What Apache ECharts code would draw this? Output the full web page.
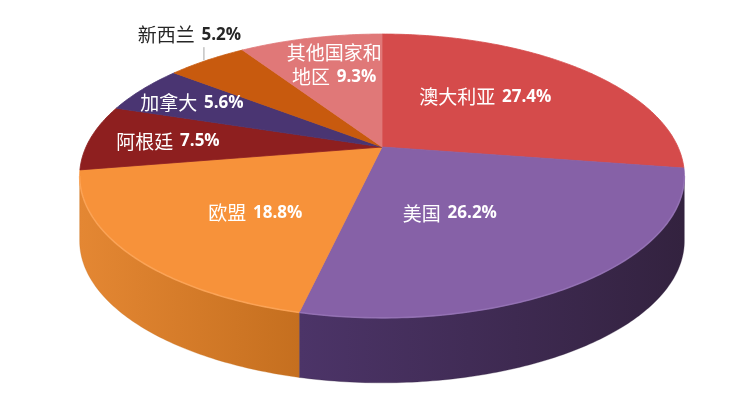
<!DOCTYPE html>
<html><head><meta charset="utf-8">
<script src="https://cdn.jsdelivr.net/npm/echarts@6/dist/echarts.min.js"></script>
<style>html,body{margin:0;padding:0;background:#fff}#c{width:750px;height:402px}</style>
</head><body><div id="c"></div>
<script>
// ---- data ----
const categories = ['澳大利亚', '美国', '欧盟', '阿根廷', '加拿大', '新西兰', '其他国家和地区'];
const values = [27.4, 26.2, 18.8, 7.5, 5.6, 5.2, 9.3];
const labelNames = ['澳大利亚', '美国', '欧盟', '阿根廷', '加拿大', '新西兰', '其他国家和\n地区'];

// ---- style / layout ----
const topColors = ['#D54B4B', '#8661A7', '#F7923A', '#8E1F1F', '#4A3572', '#C85A0E', '#E07878'];
const sideColors = [
  ['#A83838', '#8A2C2C'],
  ['#4C3468', '#33223F'],
  ['#E48733', '#C56F1F'],
  ['#6E1616', '#5A1212'],
  ['#38285A', '#2C2048'],
  ['#A04808', '#8A3E06'],
  ['#B85E5E', '#A05050']
];
const rimColors = ['#E26A6A', '#9A78BA', '#FDAA60', '#A83434', '#5E4888', '#DA7428', '#EA9494'];
const labelRadius = [0.55, 0.49, 0.59, 0.73, 0.77, 1.26, 0.71];
const labelShift = [-6, 9, -5.5, -1, -1, 4.5, 1.7];
const labelColors = ['#fff', '#fff', '#fff', '#fff', '#fff', '#262626', '#fff'];

const CX = 382, CY = 147, A = 296, B = 136, K = 0.204, H = 65;
const total = values.reduce((a, b) => a + b, 0);
const starts = []; let acc = 0;
values.forEach(v => { starts.push(acc); acc += v; });
const TH_R = Math.acos(-K) * 180 / Math.PI;
const TH_L = 360 - TH_R;

function proj(theta, r) {
  const t = theta * Math.PI / 180;
  const x = r * Math.sin(t), z = r * Math.cos(t);
  const d = 1 + K * z;
  return [CX + A * x / d, CY - B * z / d];
}
function arc(a0, a1, r) {
  const pts = [];
  const n = Math.max(2, Math.ceil((a1 - a0) / 0.8));
  for (let j = 0; j <= n; j++) pts.push(proj(a0 + (a1 - a0) * j / n, r));
  return pts;
}

const chart = echarts.init(document.getElementById('c'), null, { renderer: 'canvas' });
chart.setOption({
  animation: false,
  series: [{
    type: 'custom',
    coordinateSystem: 'none',
    data: values.map((v, i) => ({ name: categories[i], value: [v, starts[i]] })),
    renderItem: function (params, api) {
      const i = params.dataIndex;
      const v = api.value(0), s = api.value(1);
      const a0 = s / total * 360, a1 = (s + v) / total * 360;
      const children = [];
      // side wall (front-facing part only)
      const w0 = Math.max(a0, TH_R), w1 = Math.min(a1, TH_L);
      if (w1 > w0) {
        const topPts = arc(w0, w1, 1);
        const botPts = topPts.map(p => [p[0], p[1] + H]).reverse();
        const xs = topPts.map(p => p[0]);
        const xmin = Math.min.apply(null, xs), xmax = Math.max.apply(null, xs);
        children.push({
          type: 'polygon', z2: 1,
          shape: { points: topPts.concat(botPts) },
          style: {
            fill: new echarts.graphic.LinearGradient(xmin, 0, xmax, 0, [
              { offset: 0, color: sideColors[i][0] },
              { offset: 1, color: sideColors[i][1] }
            ], true),
            stroke: sideColors[i][1], lineWidth: 0.3
          }
        });
      }
      // top face
      const facePts = [[CX, CY]].concat(arc(a0, a1, 1));
      children.push({
        type: 'polygon', z2: 10,
        shape: { points: facePts },
        style: { fill: topColors[i], stroke: topColors[i], lineWidth: 0.8 }
      });
      // rim highlight on the front edge
      if (w1 > w0) {
        children.push({
          type: 'polyline', z2: 11,
          shape: { points: arc(w0, w1, 1) },
          style: { stroke: rimColors[i], lineWidth: 1.6, opacity: 0.7, fill: null }
        });
      }
      // label
      const mid = (a0 + a1) / 2;
      const lp = proj(mid + labelShift[i], labelRadius[i]);
      if (labelRadius[i] > 1) {
        const ep = proj(mid, 1);
        children.push({
          type: 'line', z2: 12,
          shape: { x1: ep[0] - 3, y1: ep[1], x2: ep[0] - 3, y2: lp[1] + 12 },
          style: { stroke: '#A6A6A6', lineWidth: 1 }
        });
      }
      children.push({
        type: 'text', z2: 20,
        style: {
          text: '{c|' + labelNames[i] + '}{s| }{n|' + v.toFixed(1) + '%}',
          x: lp[0], y: lp[1],
          align: 'center', verticalAlign: 'middle',
          fill: labelColors[i],
          lineHeight: 24,
          rich: {
            c: { fontFamily: 'Noto Sans CJK SC', fontSize: 19, fill: labelColors[i], lineHeight: 24 },
            s: { fontFamily: 'Open Sans', fontSize: 26, fill: labelColors[i], lineHeight: 24 },
            n: { fontFamily: 'Open Sans', fontWeight: 'bold', fontSize: 17, fill: labelColors[i], lineHeight: 24 }
          }
        }
      });
      return { type: 'group', children: children };
    }
  }]
});
</script>
</body></html>
